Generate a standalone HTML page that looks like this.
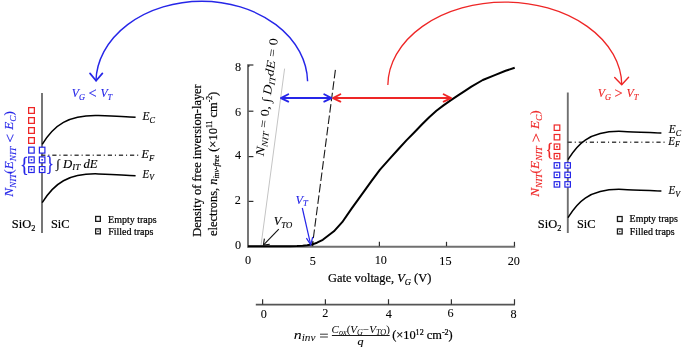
<!DOCTYPE html>
<html><head><meta charset="utf-8"><style>
html,body{margin:0;padding:0;background:#fff;width:685px;height:351px;overflow:hidden}
svg{display:block;will-change:transform}
text{font-family:"Liberation Serif",serif}
</style></head><body>
<svg width="685" height="351" viewBox="0 0 685 351">
<path d="M307.6,81.3 A105.87,81.58 0 0 0 95.9,81.3" fill="none" stroke="#2626e8" stroke-width="1.45"/>
<path d="M90,73.4 L96.1,80.8 L102.4,73.4" fill="none" stroke="#2626e8" stroke-width="1.7" stroke-linecap="round" stroke-linejoin="round"/>
<path d="M387.85,85 A116.98,83.64 0 0 1 621.8,85" fill="none" stroke="#ee2626" stroke-width="1.3"/>
<path d="M614.7,77.4 L621.7,84.7 L628.6,77.3" fill="none" stroke="#ee2626" stroke-width="1.4" stroke-linecap="round" stroke-linejoin="round"/>
<line x1="42" y1="93" x2="42" y2="233" stroke="#707070" stroke-width="1.9"/>
<line x1="41.2" y1="155.2" x2="138.6" y2="155.2" stroke="#454545" stroke-width="1.4" stroke-dasharray="4.2 2.9 1.1 2.9"/>
<path d="M42.20,144.30 C54.07,124.99 68.29,114.65 98.40,115.50 C109.99,115.95 127.66,116.69 135.60,117.30" fill="none" stroke="#000" stroke-width="1.5"/><path d="M42.20,202.70 C54.07,183.39 68.29,173.05 98.40,173.90 C109.99,174.35 127.66,175.09 135.60,175.70" fill="none" stroke="#000" stroke-width="1.5"/>
<rect x="28.62" y="107.62" width="5.75" height="5.75" fill="#fff" stroke="#ee2626" stroke-width="1.25"/>
<rect x="28.62" y="117.62" width="5.75" height="5.75" fill="#fff" stroke="#ee2626" stroke-width="1.25"/>
<rect x="28.62" y="127.62" width="5.75" height="5.75" fill="#fff" stroke="#ee2626" stroke-width="1.25"/>
<rect x="28.62" y="137.62" width="5.75" height="5.75" fill="#fff" stroke="#ee2626" stroke-width="1.25"/>
<rect x="28.70" y="147.20" width="5.50" height="5.90" fill="#fff" stroke="#2626e8" stroke-width="1.2"/>
<rect x="39.40" y="147.20" width="5.50" height="5.90" fill="#fff" stroke="#2626e8" stroke-width="1.2"/>
<rect x="28.70" y="156.90" width="5.50" height="5.90" fill="#fff" stroke="#2626e8" stroke-width="1.2"/><circle cx="31.45" cy="159.85" r="0.95" fill="#2626e8"/>
<rect x="39.40" y="156.90" width="5.50" height="5.90" fill="#fff" stroke="#2626e8" stroke-width="1.2"/><circle cx="42.15" cy="159.85" r="0.95" fill="#2626e8"/>
<rect x="28.70" y="166.60" width="5.50" height="5.90" fill="#fff" stroke="#2626e8" stroke-width="1.2"/><circle cx="31.45" cy="169.55" r="0.95" fill="#2626e8"/>
<rect x="39.40" y="166.60" width="5.50" height="5.90" fill="#fff" stroke="#2626e8" stroke-width="1.2"/><circle cx="42.15" cy="169.55" r="0.95" fill="#2626e8"/>
<line x1="567.8" y1="92.5" x2="567.8" y2="233" stroke="#707070" stroke-width="1.9"/>
<line x1="567.6" y1="142.3" x2="665.5" y2="142.3" stroke="#454545" stroke-width="1.4" stroke-dasharray="4.2 2.9 1.1 2.9"/>
<path d="M568.00,159.60 C574.96,148.98 585.56,129.70 623.40,131.40 C633.26,131.69 657.24,132.97 661.40,133.10" fill="none" stroke="#000" stroke-width="1.5"/><path d="M568.00,217.60 C574.96,206.98 585.56,187.70 623.40,189.40 C633.26,189.69 657.24,190.97 661.40,191.10" fill="none" stroke="#000" stroke-width="1.5"/>
<rect x="554.20" y="125.00" width="5.60" height="5.40" fill="#fff" stroke="#ee2626" stroke-width="1.2"/>
<rect x="554.20" y="134.50" width="5.60" height="5.40" fill="#fff" stroke="#ee2626" stroke-width="1.2"/>
<rect x="554.20" y="144.00" width="5.60" height="5.40" fill="#fff" stroke="#ee2626" stroke-width="1.2"/><circle cx="557.00" cy="146.70" r="0.95" fill="#ee2626"/>
<rect x="554.20" y="153.50" width="5.60" height="5.40" fill="#fff" stroke="#ee2626" stroke-width="1.2"/><circle cx="557.00" cy="156.20" r="0.95" fill="#ee2626"/>
<rect x="554.20" y="162.70" width="5.50" height="5.40" fill="#fff" stroke="#2626e8" stroke-width="1.2"/><circle cx="556.95" cy="165.40" r="0.95" fill="#2626e8"/>
<rect x="564.90" y="162.70" width="5.50" height="5.40" fill="#fff" stroke="#2626e8" stroke-width="1.2"/><circle cx="567.65" cy="165.40" r="0.95" fill="#2626e8"/>
<rect x="554.20" y="172.20" width="5.50" height="5.40" fill="#fff" stroke="#2626e8" stroke-width="1.2"/><circle cx="556.95" cy="174.90" r="0.95" fill="#2626e8"/>
<rect x="564.90" y="172.20" width="5.50" height="5.40" fill="#fff" stroke="#2626e8" stroke-width="1.2"/><circle cx="567.65" cy="174.90" r="0.95" fill="#2626e8"/>
<rect x="554.20" y="181.70" width="5.50" height="5.40" fill="#fff" stroke="#2626e8" stroke-width="1.2"/><circle cx="556.95" cy="184.40" r="0.95" fill="#2626e8"/>
<rect x="564.90" y="181.70" width="5.50" height="5.40" fill="#fff" stroke="#2626e8" stroke-width="1.2"/><circle cx="567.65" cy="184.40" r="0.95" fill="#2626e8"/>
<rect x="95.65" y="216.45" width="4.70" height="4.90" fill="#fff" stroke="#1a1a1a" stroke-width="1.3"/>
<rect x="95.65" y="228.85" width="4.70" height="5.00" fill="#fff" stroke="#1a1a1a" stroke-width="1.3"/><circle cx="98.00" cy="231.35" r="0.75" fill="#1a1a1a"/>
<rect x="617.45" y="216.55" width="4.70" height="4.90" fill="#fff" stroke="#1a1a1a" stroke-width="1.3"/>
<rect x="617.45" y="228.95" width="4.70" height="5.00" fill="#fff" stroke="#1a1a1a" stroke-width="1.3"/><circle cx="619.80" cy="231.45" r="0.75" fill="#1a1a1a"/>
<line x1="248" y1="64.2" x2="248" y2="247.4" stroke="#707070" stroke-width="1.9"/>
<line x1="247.2" y1="246.7" x2="515.2" y2="246.7" stroke="#707070" stroke-width="1.9"/>
<line x1="248.6" y1="65.0" x2="253.4" y2="65.0" stroke="#2e2e2e" stroke-width="1.2"/>
<line x1="248.6" y1="111.2" x2="253.4" y2="111.2" stroke="#2e2e2e" stroke-width="1.2"/>
<line x1="248.6" y1="156.6" x2="253.4" y2="156.6" stroke="#2e2e2e" stroke-width="1.2"/>
<line x1="248.6" y1="201.4" x2="253.4" y2="201.4" stroke="#2e2e2e" stroke-width="1.2"/>
<line x1="248.8" y1="65.0" x2="248.8" y2="67" stroke="#2e2e2e" stroke-width="1.2"/>
<line x1="312.8" y1="241.8" x2="312.8" y2="246.2" stroke="#2e2e2e" stroke-width="1.2"/>
<line x1="379.4" y1="241.8" x2="379.4" y2="246.2" stroke="#2e2e2e" stroke-width="1.2"/>
<line x1="446.5" y1="241.8" x2="446.5" y2="246.2" stroke="#2e2e2e" stroke-width="1.2"/>
<line x1="514.45" y1="241.8" x2="514.45" y2="246.2" stroke="#2e2e2e" stroke-width="1.2"/>
<line x1="260.9" y1="246.3" x2="284.6" y2="68.6" stroke="#c4c4c4" stroke-width="1.0"/>
<line x1="335.4" y1="69.9" x2="312.3" y2="246" stroke="#1a1a1a" stroke-width="1.1" stroke-dasharray="8.6 2.9"/>
<polyline points="248.0,246.35 280.0,246.35 290.0,246.25 297.0,246.05 302.7,245.75 307.2,245.30 311.7,244.60 317.0,242.70 322.8,239.80 333.9,231.30 342.2,222.20 351.4,208.90 363.5,192.20 371.4,181.20 380.0,169.60 390.7,157.60 398.5,149.00 406.4,140.40 414.2,132.50 422.1,124.30 429.2,117.20 436.4,110.80 443.5,105.40 450.6,100.40 457.7,95.70 465.0,90.90 471.4,86.60 482.8,80.00 494.2,75.40 505.6,70.80 514.7,67.80" fill="none" stroke="#000" stroke-width="2.0" stroke-linejoin="round"/>
<line x1="282" y1="98.1" x2="330.5" y2="98.1" stroke="#2626e8" stroke-width="2"/>
<path d="M288.3,94.3 L280.9,98.1 L288.3,101.6" fill="none" stroke="#2626e8" stroke-width="1.8" stroke-linecap="round" stroke-linejoin="round"/>
<path d="M324.2,94.3 L331.5,98.1 L324.2,101.6" fill="none" stroke="#2626e8" stroke-width="1.8" stroke-linecap="round" stroke-linejoin="round"/>
<line x1="333" y1="98.1" x2="450.4" y2="98.1" stroke="#ee2626" stroke-width="2"/>
<path d="M340.4,94.3 L333,98.1 L340.4,101.6" fill="none" stroke="#ee2626" stroke-width="1.8" stroke-linecap="round" stroke-linejoin="round"/>
<path d="M443.6,94.3 L451.1,98.1 L443.6,101.6" fill="none" stroke="#ee2626" stroke-width="1.8" stroke-linecap="round" stroke-linejoin="round"/>
<line x1="278.8" y1="229.2" x2="263.6" y2="244.8" stroke="#111" stroke-width="1.1"/>
<path d="M264.4,238.6 L263.4,245 L269.8,244.2" fill="none" stroke="#111" stroke-width="1.1"/>
<line x1="302.3" y1="208" x2="310.6" y2="244.4" stroke="#2626e8" stroke-width="1.2"/>
<path d="M306.4,238.2 L310.7,244.8 L312.7,237.0" fill="none" stroke="#2626e8" stroke-width="1.2"/>
<line x1="255.8" y1="304.6" x2="515" y2="304.6" stroke="#555" stroke-width="1.9"/>
<line x1="262.6" y1="299.2" x2="262.6" y2="304.6" stroke="#333" stroke-width="1.2"/>
<line x1="325.4" y1="299.2" x2="325.4" y2="304.6" stroke="#333" stroke-width="1.2"/>
<line x1="388.5" y1="299.2" x2="388.5" y2="304.6" stroke="#333" stroke-width="1.2"/>
<line x1="451.4" y1="299.2" x2="451.4" y2="304.6" stroke="#333" stroke-width="1.2"/>
<line x1="514.5" y1="299.2" x2="514.5" y2="304.6" stroke="#333" stroke-width="1.2"/>
<line x1="320" y1="334.2" x2="327.9" y2="334.2" stroke="#222" stroke-width="0.9"/><line x1="320" y1="337.0" x2="327.9" y2="337.0" stroke="#222" stroke-width="0.9"/>
<line x1="331.9" y1="335.5" x2="389.7" y2="335.5" stroke="#000" stroke-width="0.9"/>
<text id="y0" x="238.05" y="249.26" font-size="12.2" fill="#000" stroke="#000" stroke-width="0.08" text-anchor="middle">0</text>
<text id="y2" x="237.81" y="204.28" font-size="12.2" fill="#000" stroke="#000" stroke-width="0.08" text-anchor="middle">2</text>
<text id="y4" x="238.08" y="159.39" font-size="12.2" fill="#000" stroke="#000" stroke-width="0.08" text-anchor="middle">4</text>
<text id="y6" x="237.96" y="115.81" font-size="12.2" fill="#000" stroke="#000" stroke-width="0.08" text-anchor="middle">6</text>
<text id="y8" x="238.14" y="71.05" font-size="12.2" fill="#000" stroke="#000" stroke-width="0.08" text-anchor="middle">8</text>
<text id="x0" x="247.97" y="264.49" font-size="12.2" fill="#000" stroke="#000" stroke-width="0.08" text-anchor="middle">0</text>
<text id="x5" x="312.69" y="264.82" font-size="12.2" fill="#000" stroke="#000" stroke-width="0.08" text-anchor="middle">5</text>
<text id="x10" x="380.74" y="264.25" font-size="12.2" fill="#000" stroke="#000" stroke-width="0.08" text-anchor="middle">10</text>
<text id="x15" x="445.40" y="265.29" font-size="12.2" fill="#000" stroke="#000" stroke-width="0.08" text-anchor="middle">15</text>
<text id="x20" x="513.72" y="264.70" font-size="12.2" fill="#000" stroke="#000" stroke-width="0.08" text-anchor="middle">20</text>
<text id="s0" x="263.74" y="317.74" font-size="12.2" fill="#000" stroke="#000" stroke-width="0.08" text-anchor="middle">0</text>
<text id="s2" x="325.22" y="316.98" font-size="12.2" fill="#000" stroke="#000" stroke-width="0.08" text-anchor="middle">2</text>
<text id="s4" x="388.73" y="317.79" font-size="12.2" fill="#000" stroke="#000" stroke-width="0.08" text-anchor="middle">4</text>
<text id="s6" x="450.67" y="317.42" font-size="12.2" fill="#000" stroke="#000" stroke-width="0.08" text-anchor="middle">6</text>
<text id="s8" x="513.59" y="317.54" font-size="12.2" fill="#000" stroke="#000" stroke-width="0.08" text-anchor="middle">8</text>
<text id="gate" x="328.04" y="281.62" font-size="13.2" fill="#000" stroke="#000" stroke-width="0.22" textLength="103.26" lengthAdjust="spacingAndGlyphs">Gate voltage, <tspan font-style="italic">V</tspan><tspan font-size="9" dy="3.0" font-style="italic">G</tspan><tspan dy="-3.0" font-style="normal"> (V)</tspan></text>
<text id="yl1" transform="translate(200.68,236.63) rotate(-90)" font-size="13.0" fill="#000" stroke="#000" stroke-width="0.22" textLength="152.33" lengthAdjust="spacingAndGlyphs">Density of free inversion-layer</text>
<text id="yl2" transform="translate(216.71,236.07) rotate(-90)" font-size="13.0" fill="#000" stroke="#000" stroke-width="0.22" textLength="144.36" lengthAdjust="spacingAndGlyphs">electrons, <tspan font-style="italic">n</tspan><tspan font-size="8.0" dy="2.6" font-style="italic">inv-free</tspan><tspan dy="-2.6"> (×10</tspan><tspan font-size="8" dy="-4.5">11</tspan><tspan dy="4.5"> cm</tspan><tspan font-size="8" dy="-4.5">-2</tspan><tspan dy="4.5">)</tspan></text>
<text id="lEC" x="142.40" y="119.92" font-size="12" fill="#000" font-style="italic" stroke="#000" stroke-width="0.15" textLength="12.59" lengthAdjust="spacingAndGlyphs">E<tspan font-size="8.6" dy="2.6" font-style="italic">C</tspan></text>
<text id="lEF" x="141.63" y="158.05" font-size="12" fill="#000" font-style="italic" stroke="#000" stroke-width="0.15" textLength="12.62" lengthAdjust="spacingAndGlyphs">E<tspan font-size="8.6" dy="2.6" font-style="italic">F</tspan></text>
<text id="lEV" x="142.62" y="177.84" font-size="12" fill="#000" font-style="italic" stroke="#000" stroke-width="0.15" textLength="11.41" lengthAdjust="spacingAndGlyphs">E<tspan font-size="8.6" dy="2.6" font-style="italic">V</tspan></text>
<text id="rEC" x="668.81" y="132.90" font-size="12" fill="#000" font-style="italic" stroke="#000" stroke-width="0.15" textLength="12.41" lengthAdjust="spacingAndGlyphs">E<tspan font-size="8.6" dy="2.6" font-style="italic">C</tspan></text>
<text id="rEF" x="668.26" y="144.87" font-size="12" fill="#000" font-style="italic" stroke="#000" stroke-width="0.15" textLength="11.57" lengthAdjust="spacingAndGlyphs">E<tspan font-size="8.6" dy="2.6" font-style="italic">F</tspan></text>
<text id="rEV" x="668.54" y="194.10" font-size="12" fill="#000" font-style="italic" stroke="#000" stroke-width="0.15" textLength="11.60" lengthAdjust="spacingAndGlyphs">E<tspan font-size="8.6" dy="2.6" font-style="italic">V</tspan></text>
<text id="lVG" x="71.80" y="97.16" font-size="12.3" fill="#2626e8" font-style="italic" stroke="#2626e8" stroke-width="0.15" textLength="40.41" lengthAdjust="spacingAndGlyphs">V<tspan font-size="8.6" dy="2.4" font-style="italic">G</tspan><tspan dy="-1.2" font-style="normal" font-size="15"> &lt; </tspan><tspan dy="-1.2" font-style="italic" font-size="12.3">V</tspan><tspan font-size="8.6" dy="2.4" font-style="italic">T</tspan></text>
<text id="rVG" x="597.68" y="97.24" font-size="12.3" fill="#ee2626" font-style="italic" stroke="#ee2626" stroke-width="0.15" textLength="40.62" lengthAdjust="spacingAndGlyphs">V<tspan font-size="8.6" dy="2.4" font-style="italic">G</tspan><tspan dy="-1.2" font-style="normal" font-size="15"> &gt; </tspan><tspan dy="-1.2" font-style="italic" font-size="12.3">V</tspan><tspan font-size="8.6" dy="2.4" font-style="italic">T</tspan></text>
<text id="int" x="56.32" y="167.50" font-size="12.3" fill="#000" font-style="italic" stroke="#000" stroke-width="0.15" textLength="41.25" lengthAdjust="spacingAndGlyphs"><tspan font-style="normal">∫</tspan> D<tspan font-size="8.6" dy="2.4" font-style="italic">IT</tspan><tspan dy="-2.4"> dE</tspan></text>
<text id="lsio2" x="11.78" y="227.81" font-size="13.5" fill="#000" stroke="#000" stroke-width="0.22" textLength="23.55" lengthAdjust="spacingAndGlyphs">SiO<tspan font-size="9" dy="2.8" font-style="normal">2</tspan></text>
<text id="lsic" x="51.02" y="228.38" font-size="13.5" fill="#000" stroke="#000" stroke-width="0.22" textLength="18.48" lengthAdjust="spacingAndGlyphs">SiC</text>
<text id="rsio2" x="537.78" y="227.81" font-size="13.5" fill="#000" stroke="#000" stroke-width="0.22" textLength="23.55" lengthAdjust="spacingAndGlyphs">SiO<tspan font-size="9" dy="2.8" font-style="normal">2</tspan></text>
<text id="rsic" x="577.02" y="228.38" font-size="13.5" fill="#000" stroke="#000" stroke-width="0.22" textLength="18.48" lengthAdjust="spacingAndGlyphs">SiC</text>
<text id="lempty" x="108.06" y="222.73" font-size="9.8" fill="#000" stroke="#000" stroke-width="0.22" textLength="48.50" lengthAdjust="spacingAndGlyphs">Empty traps</text>
<text id="lfilled" x="108.17" y="234.92" font-size="9.8" fill="#000" stroke="#000" stroke-width="0.22" textLength="45.18" lengthAdjust="spacingAndGlyphs">Filled traps</text>
<text id="rempty" x="629.64" y="222.45" font-size="9.8" fill="#000" stroke="#000" stroke-width="0.22" textLength="48.21" lengthAdjust="spacingAndGlyphs">Empty traps</text>
<text id="rfilled" x="629.69" y="235.08" font-size="9.8" fill="#000" stroke="#000" stroke-width="0.22" textLength="44.96" lengthAdjust="spacingAndGlyphs">Filled traps</text>
<text id="lnnit" transform="translate(13.37,196.78) rotate(-90)" font-size="12.3" fill="#2626e8" font-style="italic" stroke="#2626e8" stroke-width="0.15" textLength="85.63" lengthAdjust="spacingAndGlyphs">N<tspan font-size="8.6" dy="2.4" font-style="italic">NIT</tspan><tspan dy="-2.4" font-style="normal">(</tspan><tspan dy="0" font-style="italic">E</tspan><tspan font-size="8.6" dy="2.4" font-style="italic">NIT</tspan><tspan dy="-1.2" font-style="normal" font-size="15"> &lt; </tspan><tspan dy="-1.2" font-style="italic" font-size="12.3">E</tspan><tspan font-size="8.6" dy="2.4" font-style="italic">C</tspan><tspan dy="-2.4" font-style="normal">)</tspan></text>
<text id="rnnit" transform="translate(539.43,196.82) rotate(-90)" font-size="12.3" fill="#ee2626" font-style="italic" stroke="#ee2626" stroke-width="0.15" textLength="86.61" lengthAdjust="spacingAndGlyphs">N<tspan font-size="8.6" dy="2.4" font-style="italic">NIT</tspan><tspan dy="-2.4" font-style="normal">(</tspan><tspan dy="0" font-style="italic">E</tspan><tspan font-size="8.6" dy="2.4" font-style="italic">NIT</tspan><tspan dy="-1.2" font-style="normal" font-size="15"> &gt; </tspan><tspan dy="-1.2" font-style="italic" font-size="12.3">E</tspan><tspan font-size="8.6" dy="2.4" font-style="italic">C</tspan><tspan dy="-2.4" font-style="normal">)</tspan></text>
<text id="bl" transform="translate(20.16,170.51) scale(0.7781,0.9490)" font-size="22.4" fill="#2626e8" stroke="#2626e8" stroke-width="0.3">{</text>
<text id="br" transform="translate(46.01,169.58) scale(0.7321,0.9680)" font-size="22.0" fill="#2626e8" stroke="#2626e8" stroke-width="0.3">}</text>
<text id="brr" transform="translate(545.82,155.88) scale(0.8150,0.9734)" font-size="19.0" fill="#ee2626" stroke="#ee2626" stroke-width="0.3">{</text>
<text id="vto" x="273.78" y="225.26" font-size="12.3" fill="#000" font-style="italic" stroke="#000" stroke-width="0.15" textLength="18.51" lengthAdjust="spacingAndGlyphs">V<tspan font-size="8.6" dy="2.4" font-style="italic">TO</tspan></text>
<text id="vt" x="295.56" y="203.55" font-size="12.3" fill="#2626e8" font-style="italic" stroke="#2626e8" stroke-width="0.15" textLength="12.29" lengthAdjust="spacingAndGlyphs">V<tspan font-size="8.6" dy="2.4" font-style="italic">T</tspan></text>
<text id="tilt" transform="translate(263.64,156.44) rotate(-83.1)" font-size="12.3" fill="#000" font-style="italic" stroke="#000" stroke-width="0.01" textLength="118.52" lengthAdjust="spacingAndGlyphs">N<tspan font-size="8.6" dy="2.4" font-style="italic">NIT</tspan><tspan dy="-2.4" font-style="normal"> = 0, ∫ </tspan><tspan dy="0" font-style="italic">D</tspan><tspan font-size="8.6" dy="2.4" font-style="italic">IT</tspan><tspan dy="-2.4" font-style="italic">dE</tspan><tspan dy="0" font-style="normal"> = 0</tspan></text>
<text id="ninv" x="293.76" y="338.75" font-size="13.2" fill="#000" font-style="italic" stroke="#000" stroke-width="0.01" textLength="21.79" lengthAdjust="spacingAndGlyphs">n<tspan font-size="9.4" dy="2.6" font-style="italic">inv</tspan></text>
<text id="numer" x="331.61" y="332.76" font-size="10.6" fill="#000" font-style="italic" stroke="#000" stroke-width="0.01" textLength="58.22" lengthAdjust="spacingAndGlyphs">C<tspan font-size="7.8" dy="2.0" font-style="italic">ox</tspan><tspan dy="-2.0" font-style="normal">(</tspan><tspan dy="0" font-style="italic">V</tspan><tspan font-size="7.8" dy="2.0" font-style="italic">G</tspan><tspan dy="-2.0" font-style="normal">−</tspan><tspan dy="0" font-style="italic">V</tspan><tspan font-size="7.8" dy="2.0" font-style="italic">TO</tspan><tspan dy="-2.0" font-style="normal">)</tspan></text>
<text id="q" x="357.55" y="345.07" font-size="10.3" fill="#000" font-style="italic" stroke="#000" stroke-width="0.15" textLength="6.02" lengthAdjust="spacingAndGlyphs">q</text>
<text id="unit" x="392.14" y="339.40" font-size="12.6" fill="#000" stroke="#000" stroke-width="0.22" textLength="60.60" lengthAdjust="spacingAndGlyphs">(×10<tspan font-size="8.2" dy="-4.6">12</tspan><tspan dy="4.6"> cm</tspan><tspan font-size="8.2" dy="-4.6">-2</tspan><tspan dy="4.6">)</tspan></text>
</svg>
</body></html>
